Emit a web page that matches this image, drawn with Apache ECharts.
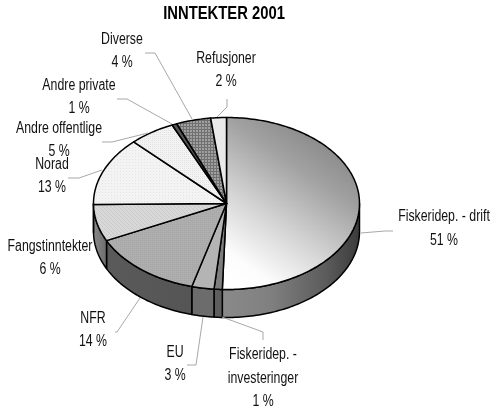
<!DOCTYPE html>
<html><head><meta charset="utf-8">
<style>html,body{margin:0;padding:0;background:#fff}#c{width:500px;height:413px}</style>
<script src="https://cdn.jsdelivr.net/npm/echarts@6/dist/echarts.min.js"></script>
</head><body><div id="c"></div>
<script>
// ---- data ----
const titleText = 'INNTEKTER 2001';
const categories = ['Fiskeridep. - drift','Fiskeridep. - investeringer','EU','NFR','Fangstinntekter','Norad','Andre offentlige','Andre private','Diverse','Refusjoner'];
const shares = [50.5,1,2.7,13.7,6.9,12.9,5.6,0.6,4.2,1.9];     // slice sizes as measured
const percentLabels = ['51 %','1 %','3 %','14 %','6 %','13 %','5 %','1 %','4 %','2 %'];  // as printed

// ---- layout ----
const pie = {cx:226.5, cy:203.5, rx:133, ry:86, depth:28};
const labelLayout = [
  {x:444, lines:['Fiskeridep. - drift'], y:[217,241]},
  {x:263, lines:['Fiskeridep. -','investeringer'], y:[355,379,402]},
  {x:175, lines:['EU'], y:[353,376]},
  {x:93,  lines:['NFR'], y:[319,342]},
  {x:50,  lines:['Fangstinntekter'], y:[247,270]},
  {x:52,  lines:['Norad'], y:[165,188]},
  {x:59,  lines:['Andre offentlige'], y:[129,152]},
  {x:79,  lines:['Andre private'], y:[86,109]},
  {x:122, lines:['Diverse'], y:[40,63]},
  {x:226, lines:['Refusjoner'], y:[59,82]}
];
const leaderLayout = [
  [[361,233],[385,231],[393,231]],
  [[222,317],[263,332],[263,340]],
  [[203,317],[196,365],[187,365]],
  [[140,298],[117,332],[115,332]],
  null,
  [[102,170],[79,178],[68,178]],
  [[148,133],[112,142],[102,142]],
  [[172,124],[127,99],[117,99]],
  [[192,119],[155,53],[145,53]],
  [[217,117],[227,107],[227,99]]
];
const textFont = 'Liberation Sans';
const textScale = 0.77;

// ---- fills ----
function pat(size, bg, dots){
  const c=document.createElement('canvas'); c.width=c.height=size;
  const g=c.getContext('2d'); g.fillStyle=bg; g.fillRect(0,0,size,size);
  dots.forEach(d=>{g.fillStyle=d[2]; g.fillRect(d[0],d[1],d[3]||1,d[4]||1);});
  return {image:c, repeat:'repeat'};
}
const grad=(x,y,x2,y2,stops)=>new echarts.graphic.LinearGradient(x,y,x2,y2,stops.map(s=>({offset:s[0],color:s[1]})));
const topFills = [
  grad(0.95,0.02,0.1,0.98,[[0,'#767676'],[0.35,'#a2a2a2'],[0.62,'#d2d2d2'],[0.88,'#fcfcfc'],[1,'#ffffff']]),
  '#7d7d7d',
  '#b4b4b4',
  pat(2,'#aeaeae',[[0,0,'#a6a6a6']]),
  pat(4,'#d8d8d8',[[0,0,'#c8c8c8'],[1,1,'#cccccc'],[2,2,'#c8c8c8'],[3,3,'#cccccc']]),
  pat(3,'#f3f3f3',[[0,0,'#e4e4e4']]),
  pat(2,'#f3f3f3',[[0,0,'#e2e2e2']]),
  '#555555',
  pat(3,'#a0a0a0',[[0,0,'#707070',3,1],[0,0,'#707070',1,3]]),
  '#e9e9e9'
];
const sideFills = [
  grad(0,0,1,0,[[0,'#8a8a8a'],[0.35,'#808080'],[0.75,'#5c5c5c'],[1,'#3a3a3a']]),
  '#5e5e5e','#6c6c6c',
  grad(0,0,1,0,[[0,'#5a5a5a'],[1,'#555555']]),
  grad(0,0,1,0,[[0,'#8a8a8a'],[1,'#6c6c6c']]),
  null,null,null,null,null
];

// ---- geometry helpers ----
const total = shares.reduce((a,b)=>a+b,0);
const starts = shares.reduce((acc,v)=>{acc.push(acc[acc.length-1]+v);return acc;},[0]);
const toAngle = v => v/total*Math.PI*2;
const rimPoint = (a,dy)=>[pie.cx+pie.rx*Math.sin(a), pie.cy-pie.ry*Math.cos(a)+dy];
function arc(a0,a1,dy){
  const n=Math.max(2,Math.ceil((a1-a0)/0.02)), out=[];
  for(let k=0;k<=n;k++) out.push(rimPoint(a0+(a1-a0)*k/n,dy));
  return out;
}
const ink='#000';

const option = {
  animation:false,
  backgroundColor:'#fff',
  graphic:[{type:'text',x:224,y:14,scaleX:0.8,
    style:{text:titleText,align:'center',verticalAlign:'middle',fill:'#000',fontFamily:textFont,fontWeight:'bold',fontSize:18.5}}],
  series:[
    {type:'custom',coordinateSystem:'none',silent:true,data:shares.map((v,i)=>[i,v]),z:1,
     renderItem(p,api){
       const i=api.value(0);
       const a0=Math.max(toAngle(starts[i]),Math.PI/2), a1=Math.min(toAngle(starts[i+1]),Math.PI*1.5);
       if(a1<=a0) return {type:'group',children:[]};
       const pts=arc(a0,a1,0).concat(arc(a0,a1,pie.depth).reverse());
       return {type:'polygon',shape:{points:pts},style:{fill:sideFills[i]||'#666',stroke:ink,lineWidth:1.5,lineJoin:'round'}};
     }},
    {type:'custom',coordinateSystem:'none',silent:true,data:shares.map((v,i)=>[i,v]),z:2,
     renderItem(p,api){
       const i=api.value(0);
       const pts=[[pie.cx,pie.cy]].concat(arc(toAngle(starts[i]),toAngle(starts[i+1]),0));
       return {type:'polygon',shape:{points:pts},style:{fill:topFills[i],stroke:ink,lineWidth:1.5,lineJoin:'round'}};
     }},
    {type:'custom',coordinateSystem:'none',silent:true,data:shares.map((v,i)=>[i,v]),z:3,
     renderItem(p,api){
       const i=api.value(0), L=labelLayout[i], children=[];
       if(leaderLayout[i]) children.push({type:'polyline',shape:{points:leaderLayout[i]},style:{fill:null,stroke:'#a8a8a8',lineWidth:1}});
       L.lines.concat([percentLabels[i]]).forEach((t,k)=>children.push({type:'text',x:L.x,y:L.y[k],scaleX:textScale,
         style:{text:t,align:'center',verticalAlign:'middle',fill:'#111',fontFamily:textFont,fontSize:16}}));
       return {type:'group',children};
     }}
  ]
};
echarts.init(document.getElementById('c'),null,{renderer:'canvas'}).setOption(option);
</script></body></html>
